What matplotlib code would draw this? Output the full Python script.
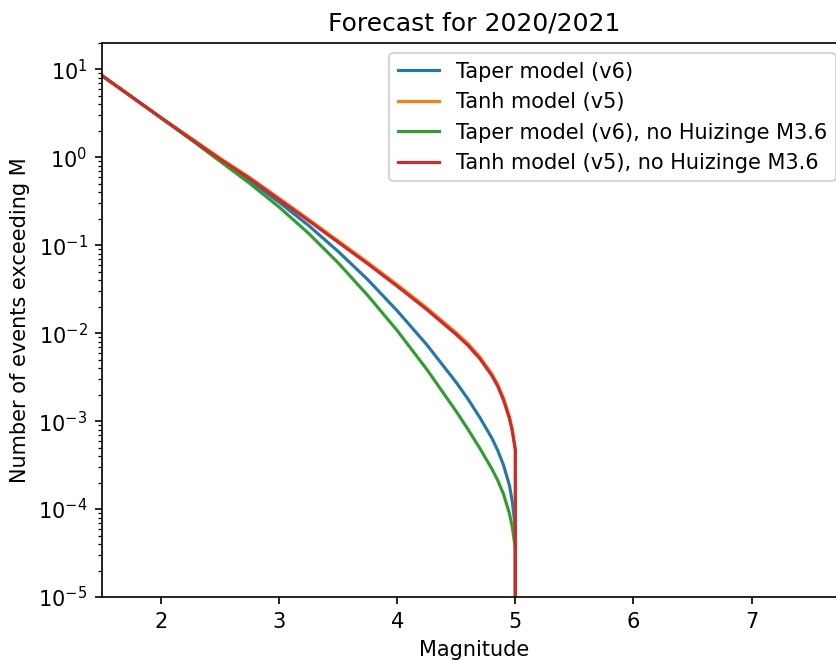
import matplotlib
matplotlib.use('Agg')
import matplotlib.pyplot as plt
import numpy as np


#The below section is the magnitude grid (last point is where the rate drops to zero)
magnitude = [1.5, 1.75, 2.0, 2.25, 2.5, 2.75, 3.0, 3.25, 3.5, 3.75, 4.0, 4.25, 4.5,
             4.6, 4.7, 4.8, 4.85, 4.9, 4.95, 4.975, 5.0, 5.0]

#Number of events exceeding M for each model
taper_v6 = [8.511, 4.898, 2.818, 1.622, 0.9333, 0.5433, 0.3090, 0.1679, 0.08511, 0.04074, 0.01799,
            0.007413, 0.002754, 0.001778, 0.001096, 0.0006457, 0.0004677, 0.0003162, 0.0001862,
            0.0001202, 0.00006026, 0.0]
tanh_v5 = [8.511, 4.898, 2.831, 1.667, 0.9772, 0.5916, 0.3428, 0.1972, 0.1122, 0.06383, 0.03565,
           0.01941, 0.01012, 0.007586, 0.005370, 0.003467, 0.002630, 0.001820, 0.001122,
           0.0007943, 0.0004786, 0.0]
taper_v6_nohz = [8.511, 4.898, 2.818, 1.603, 0.9016, 0.5070, 0.2723, 0.1365, 0.06310, 0.02692, 0.01072,
                 0.003890, 0.001288, 0.0008035, 0.0004898, 0.0002884, 0.0002138, 0.0001479, 0.00008913,
                 0.00006166, 0.00003548, 0.0]
tanh_v5_nohz = [8.511, 4.898, 2.818, 1.641, 0.9550, 0.5754, 0.3311, 0.1905, 0.1084, 0.06166, 0.03428,
                0.01862, 0.009661, 0.007244, 0.005129, 0.003311, 0.002512, 0.001738, 0.001072,
                0.0007586, 0.0004677, 0.0]

labels = ['Taper model (v6)', 'Tanh model (v5)',
          'Taper model (v6), no Huizinge M3.6', 'Tanh model (v5), no Huizinge M3.6']


#The final ploting happens here
fig = plt.figure(figsize=(836/150, 660/150), dpi=150)
ax = fig.add_axes([102/836, 63/660, 744/836, 554/660])

ax.plot(magnitude, taper_v6, color='C0', label=labels[0])
ax.plot(magnitude, tanh_v5, color='C1', label=labels[1])
ax.plot(magnitude, taper_v6_nohz, color='C2', label=labels[2])
ax.plot(magnitude, tanh_v5_nohz, color='C3', label=labels[3])

ax.set_yscale('log')
ax.set_xlim(1.5, 7.8)
ax.set_ylim(1e-5, 20)
ax.set_xticks([2, 3, 4, 5, 6, 7])

plt.xlabel('Magnitude')
plt.ylabel('Number of events exceeding M')
plt.title('Forecast for 2020/2021')
plt.legend(loc='upper right')

plt.savefig('out.png', dpi=150)
